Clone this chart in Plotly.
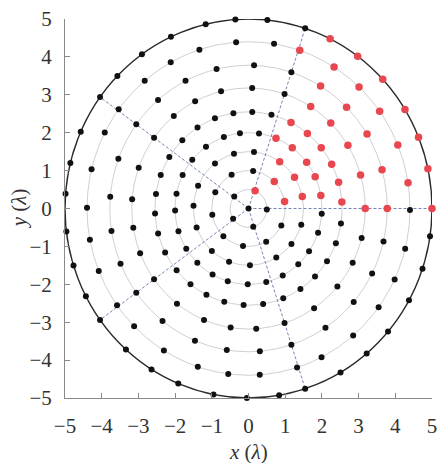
import numpy as np
import plotly.graph_objects as go

# Ring radii (in wavelengths) of the circular array
ring_radius = [0.5, 1.0, 1.5, 2.0, 2.55, 3.18, 3.78, 4.4, 5.0]

# Element angles (degrees) inside one 72-degree sector, per ring
sector_angles = [
    [69.0],
    [10.8, 45.4],
    [12.3, 33.3, 55.5],
    [9.8, 24.7, 37.6, 53.4, 68.0],
    [3.8, 15.7, 27.3, 39.0, 51.0, 63.0],
    [0.0, 16.2, 31.6, 45.2, 57.8],
    [0.0, 15.7, 31.3, 45.0, 58.7],
    [8.9, 22.4, 35.7, 46.8, 58.0, 71.5],
    [0.0, 12.1, 22.1, 31.5, 43.0, 53.5, 63.6],
]

# Sector boundaries (degrees) and how many sectors make up the aperture
sector_edges = [0, 72, 144, 216, 288]
n_sectors = 5
sector_span = 72.0

tick_values = [-5, -4, -3, -2, -1, 0, 1, 2, 3, 4, 5]
x_title = "<i>x</i> (<i>λ</i>)"
y_title = "<i>y</i> (<i>λ</i>)"

# Build element positions: sector 0 is highlighted, the rest are its rotated copies
red_x, red_y, blk_x, blk_y = [], [], [0.0], [0.0]
for r, angs in zip(ring_radius, sector_angles):
    for k in range(n_sectors):
        for a in angs:
            t = np.deg2rad(a + k * sector_span)
            if k == 0:
                red_x.append(r * np.cos(t)); red_y.append(r * np.sin(t))
            else:
                blk_x.append(r * np.cos(t)); blk_y.append(r * np.sin(t))

R_max = ring_radius[-1]
fig = go.Figure()

shapes = []
for r in ring_radius[:-1]:
    shapes.append(dict(type="circle", xref="x", yref="y", x0=-r, x1=r, y0=-r, y1=r,
                       line=dict(color="#cfd0d6", width=1), layer="below"))
for a in sector_edges:
    t = np.deg2rad(a)
    shapes.append(dict(type="line", xref="x", yref="y", x0=0, y0=0,
                       x1=R_max * np.cos(t), y1=R_max * np.sin(t),
                       line=dict(color="#7683b3", width=1, dash="3px,2px"), layer="below"))
shapes.append(dict(type="circle", xref="x", yref="y", x0=-R_max, x1=R_max, y0=-R_max, y1=R_max,
                   line=dict(color="#2a2a2a", width=1.4), layer="below"))

fig.add_trace(go.Scatter(x=blk_x, y=blk_y, mode="markers", cliponaxis=False,
                         marker=dict(size=6, color="#111111"), showlegend=False))
fig.add_trace(go.Scatter(x=red_x, y=red_y, mode="markers", cliponaxis=False,
                         marker=dict(size=7.5, color="#e8474f"), showlegend=False))

serif = "Times New Roman, Liberation Serif, serif"
axis_common = dict(range=[-5, 5], tickvals=tick_values, ticks="inside", ticklen=5,
                   tickcolor="#8a8a8a", showline=True, linecolor="#8a8a8a", linewidth=1,
                   showgrid=False, zeroline=False,
                   tickfont=dict(family=serif, size=21, color="#333333"))

title_font = dict(family=serif, size=21, color="#333333")
fig.update_layout(
    width=445, height=463,
    margin=dict(l=65, r=7.5, t=17, b=65),
    paper_bgcolor="white", plot_bgcolor="white",
    font=dict(family=serif, color="#333333"),
    shapes=shapes,
    xaxis=dict(**axis_common, ticklabelstandoff=9),
    yaxis=dict(**axis_common, ticklabelstandoff=8),
    annotations=[
        dict(text=x_title, xref="paper", yref="paper", x=0.5, y=-0.142,
             xanchor="center", yanchor="middle", showarrow=False, font=title_font),
        dict(text=y_title, xref="paper", yref="paper", x=-0.126, y=0.5, textangle=-90,
             xanchor="center", yanchor="middle", showarrow=False, font=title_font),
    ],
)

fig.write_html("out.html")
